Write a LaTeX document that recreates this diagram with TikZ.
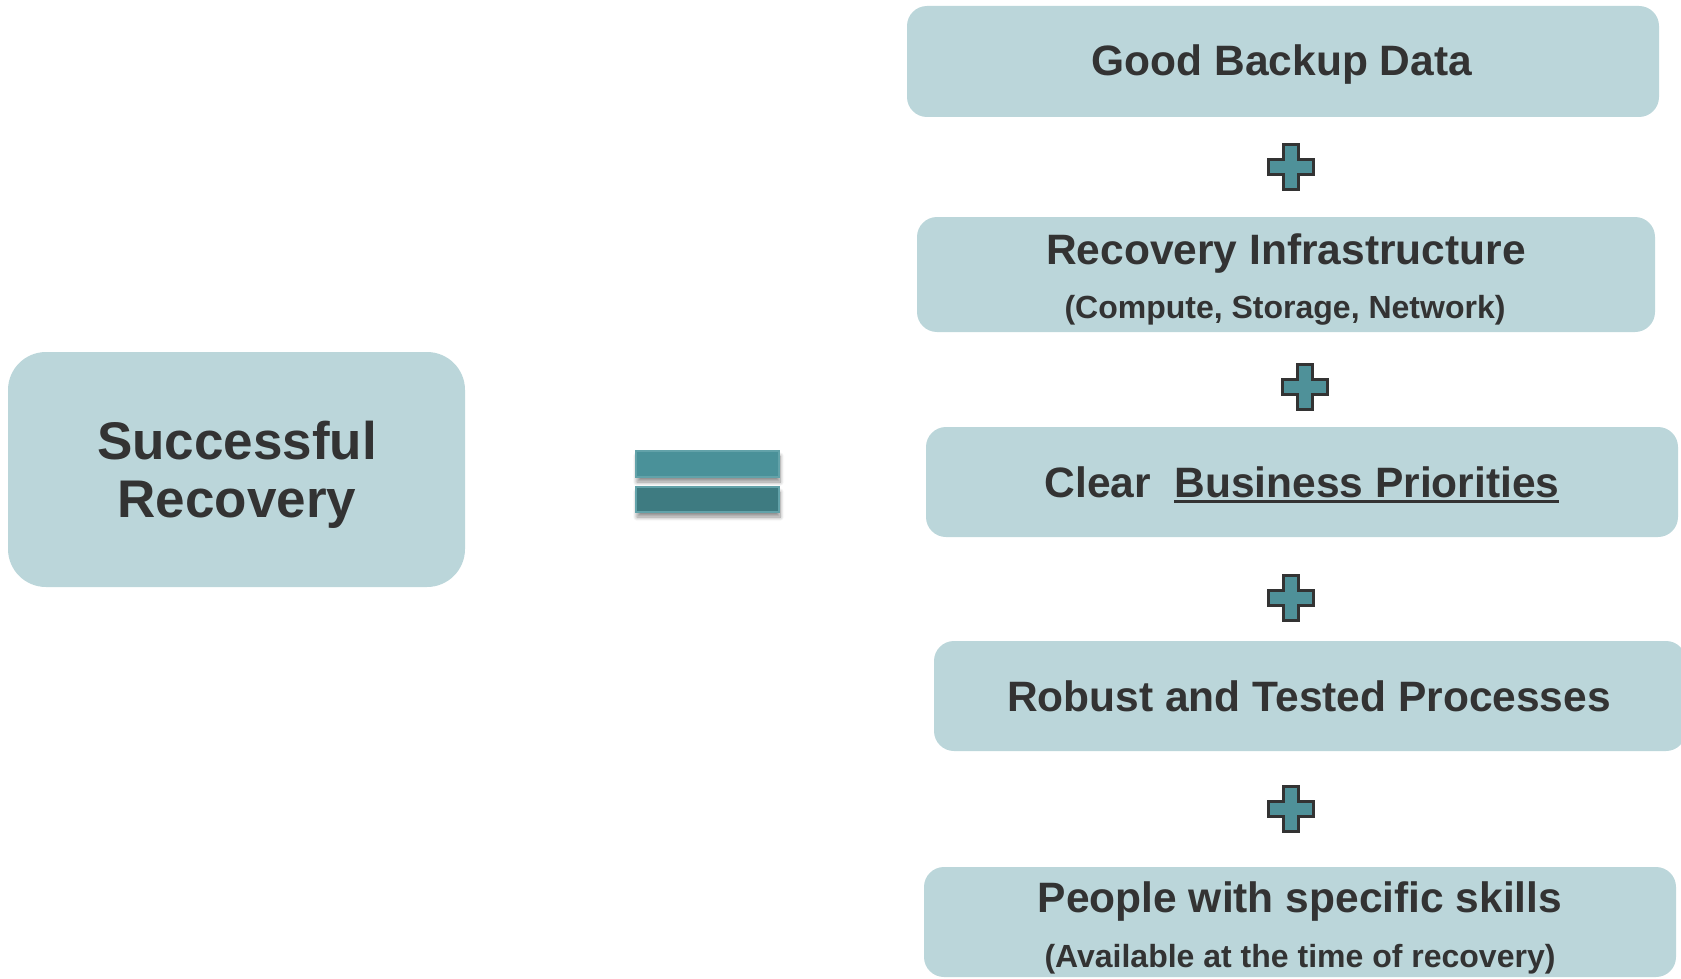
\documentclass[tikz,border=0pt]{standalone}
\usepackage{fontspec}
\setmainfont{Liberation Sans}
\usetikzlibrary{shadows,shadows.blur}
\definecolor{boxfill}{HTML}{BBD6DA}
\definecolor{txtcol}{HTML}{333333}
\definecolor{plusfill}{HTML}{4F9199}
\definecolor{eqtop}{HTML}{4A9199}
\definecolor{eqbot}{HTML}{3E7B81}
\definecolor{eqedge}{HTML}{62A2A9}
\newcommand\myul[1]{\setbox0\hbox{#1}\rlap{\raisebox{-6pt}{\rule{\wd0}{3pt}}}\box0}
\tikzset{
  rbox/.style={draw=none, fill=boxfill, rounded corners=20pt, inner sep=0pt},
  bigtxt/.style={anchor=base, inner sep=0pt, text=txtcol, font=\fontsize{42.5pt}{50pt}\selectfont\bfseries},
  smalltxt/.style={anchor=base, inner sep=0pt, text=txtcol, font=\fontsize{32pt}{38pt}\selectfont\bfseries},
  hugetxt/.style={anchor=base, inner sep=0pt, text=txtcol, font=\fontsize{53pt}{58pt}\selectfont\bfseries},
  eqbar/.style={draw=eqedge, line width=1.2pt, minimum width=143pt, inner sep=0pt,
    blur shadow={shadow xshift=1pt, shadow yshift=-5pt, shadow opacity=45, shadow blur radius=4pt, shadow blur steps=8}},
  plusshape/.style={fill=plusfill, draw=txtcol, line width=2.2pt, line join=miter},
}
\newcommand\plusat[2]{%
  \path[plusshape] (#1-7.5,#2-22.5) -- (#1+7.5,#2-22.5) -- (#1+7.5,#2-7.5) -- (#1+22.5,#2-7.5)
    -- (#1+22.5,#2+7.5) -- (#1+7.5,#2+7.5) -- (#1+7.5,#2+22.5) -- (#1-7.5,#2+22.5)
    -- (#1-7.5,#2+7.5) -- (#1-22.5,#2+7.5) -- (#1-22.5,#2-7.5) -- (#1-7.5,#2-7.5) -- cycle;}
\begin{document}
\begin{tikzpicture}[x=1pt, y=-1pt]
\useasboundingbox (0,0) rectangle (1681,979);
% left box
\node[rbox, rounded corners=38pt, minimum width=457pt, minimum height=235pt] (left) at (236.5,469.5) {};
\node[hugetxt] (lt1) at (237,459) {Successful};
\node[hugetxt] (lt2) at (237,517) {Recovery};
% equals sign
\node[eqbar, fill=eqtop, minimum height=26pt] (eq1) at (707.5,464) {};
\node[eqbar, fill=eqbot, minimum height=25pt] (eq2) at (707.5,499.5) {};
% right boxes
\node[rbox, minimum width=752pt, minimum height=111pt] (b1) at (1283,61.5) {};
\node[bigtxt] (t1) at (1282,76) {Good Backup Data};
\node[rbox, minimum width=738pt, minimum height=115pt] (b2) at (1286,274.5) {};
\node[bigtxt] (t2a) at (1286,264) {Recovery Infrastructure};
\node[smalltxt] (t2b) at (1285,318) {(Compute, Storage, Network)};
\node[rbox, minimum width=752pt, minimum height=110pt] (b3) at (1302,482) {};
\node[bigtxt] (t3) at (1302,497) {Clear\ \ \myul{Business Priorities}};
\node[rbox, minimum width=752pt, minimum height=110pt] (b4) at (1310,696) {};
\node[bigtxt] (t4) at (1309,711) {Robust and Tested Processes};
\node[rbox, minimum width=752pt, minimum height=110pt] (b5) at (1300,922) {};
\node[bigtxt] (t5a) at (1300,912) {People with specific skills};
\node[smalltxt] (t5b) at (1300,967) {(Available at the time of recovery)};
% plus signs
\plusat{1291}{167}
\plusat{1305}{387}
\plusat{1291}{598}
\plusat{1291}{809}
\end{tikzpicture}
\end{document}
